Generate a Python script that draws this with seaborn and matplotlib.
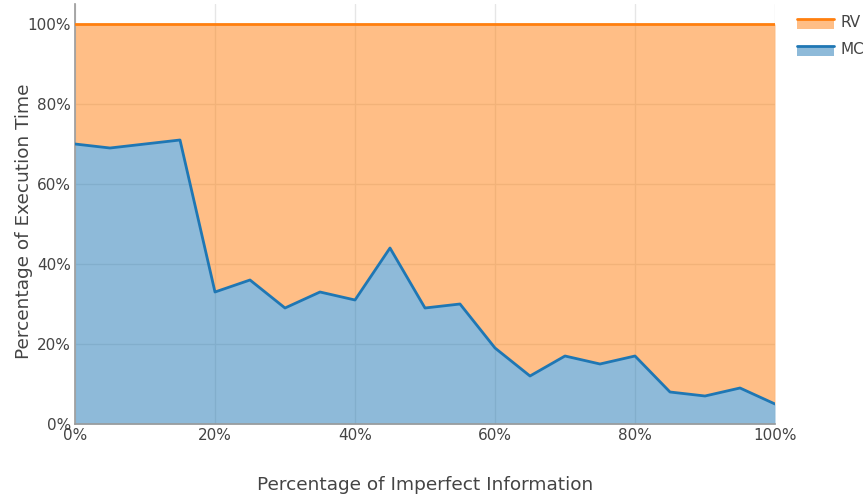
import numpy as np
import pandas as pd
import matplotlib
matplotlib.use("Agg")
import matplotlib.pyplot as plt
import seaborn as sns
from matplotlib.ticker import FuncFormatter
from matplotlib.lines import Line2D
from matplotlib.patches import Rectangle
from matplotlib.legend_handler import HandlerBase

# ---- data ----
imperfect_pct = [0, 5, 10, 15, 20, 25, 30, 35, 40, 45, 50,
                 55, 60, 65, 70, 75, 80, 85, 90, 95, 100]
mc_share = [70, 69, 70, 71, 33, 36, 29, 33, 31, 44, 29,
            30, 19, 12, 17, 15, 17, 8, 7, 9, 5]
rv_total = [100] * len(imperfect_pct)

df = pd.DataFrame({
    "x": imperfect_pct * 2,
    "y": mc_share + rv_total,
    "series": ["MC"] * len(imperfect_pct) + ["RV"] * len(imperfect_pct),
})

blue = "#1f77b4"
orange = "#ff7f0e"
text_col = "#444444"


class FillHandler(HandlerBase):
    # legend icon: shaded band with the line on its top edge
    def create_artists(self, legend, orig_handle, xdescent, ydescent,
                       width, height, fontsize, trans):
        c = orig_handle.get_color()
        y0 = -ydescent - height * 0.15
        y1 = -ydescent + height * 0.75
        rect = Rectangle((-xdescent, y0), width, y1 - y0, facecolor=c,
                         alpha=0.5, lw=0, transform=trans)
        line = Line2D([-xdescent, -xdescent + width], [y1, y1], color=c,
                      lw=2, transform=trans)
        return [rect, line]


sns.set_style("white")
plt.rcParams["font.family"] = ["DejaVu Sans"]

fig = plt.figure(figsize=(8.66, 4.99), dpi=100)
ax = fig.add_axes([75 / 866, 1 - 424 / 499, 700 / 866, 420 / 499])

# stacked fills (tozeroy / tonexty)
ax.fill_between(imperfect_pct, 0, mc_share, color=blue, alpha=0.5, lw=0, zorder=1)
ax.fill_between(imperfect_pct, mc_share, rv_total, color=orange, alpha=0.5, lw=0, zorder=1)

sns.lineplot(data=df, x="x", y="y", hue="series",
             palette={"MC": blue, "RV": orange}, linewidth=2,
             legend=False, ax=ax, zorder=3)

ax.set_xlim(0, 100)
ax.set_ylim(0, 105)
ax.set_xticks([0, 20, 40, 60, 80, 100])
ax.set_yticks([0, 20, 40, 60, 80, 100])
pct = FuncFormatter(lambda v, _: f"{int(v)}%")
ax.xaxis.set_major_formatter(pct)
ax.yaxis.set_major_formatter(pct)
ax.grid(True, color="#e6e6e6", lw=1, zorder=0)
ax.set_axisbelow(True)

for s in ["top", "right"]:
    ax.spines[s].set_visible(False)
for s in ["left", "bottom"]:
    ax.spines[s].set_color("#9a9a9a")
    ax.spines[s].set_linewidth(1.2)

ax.tick_params(axis="both", length=0, labelsize=11, colors=text_col, pad=3)
ax.set_xlabel("Percentage of Imperfect Information", fontsize=13.3, color=text_col)
ax.set_ylabel("Percentage of Execution Time", fontsize=13.3, color=text_col)
ax.xaxis.set_label_coords(0.5, -0.125)
ax.yaxis.set_label_coords(-0.06, 0.483)

handles = [Line2D([], [], color=orange), Line2D([], [], color=blue)]
leg = fig.legend(handles, ["RV", "MC"], loc="upper left",
                 bbox_to_anchor=(797 / 866, 1 - 15 / 499), frameon=False,
                 fontsize=11, handlelength=2.4, labelspacing=0.8,
                 handletextpad=0.45, borderaxespad=0, borderpad=0,
                 handler_map={Line2D: FillHandler()})
for t in leg.get_texts():
    t.set_color(text_col)

fig.savefig("out.png", dpi=100)
